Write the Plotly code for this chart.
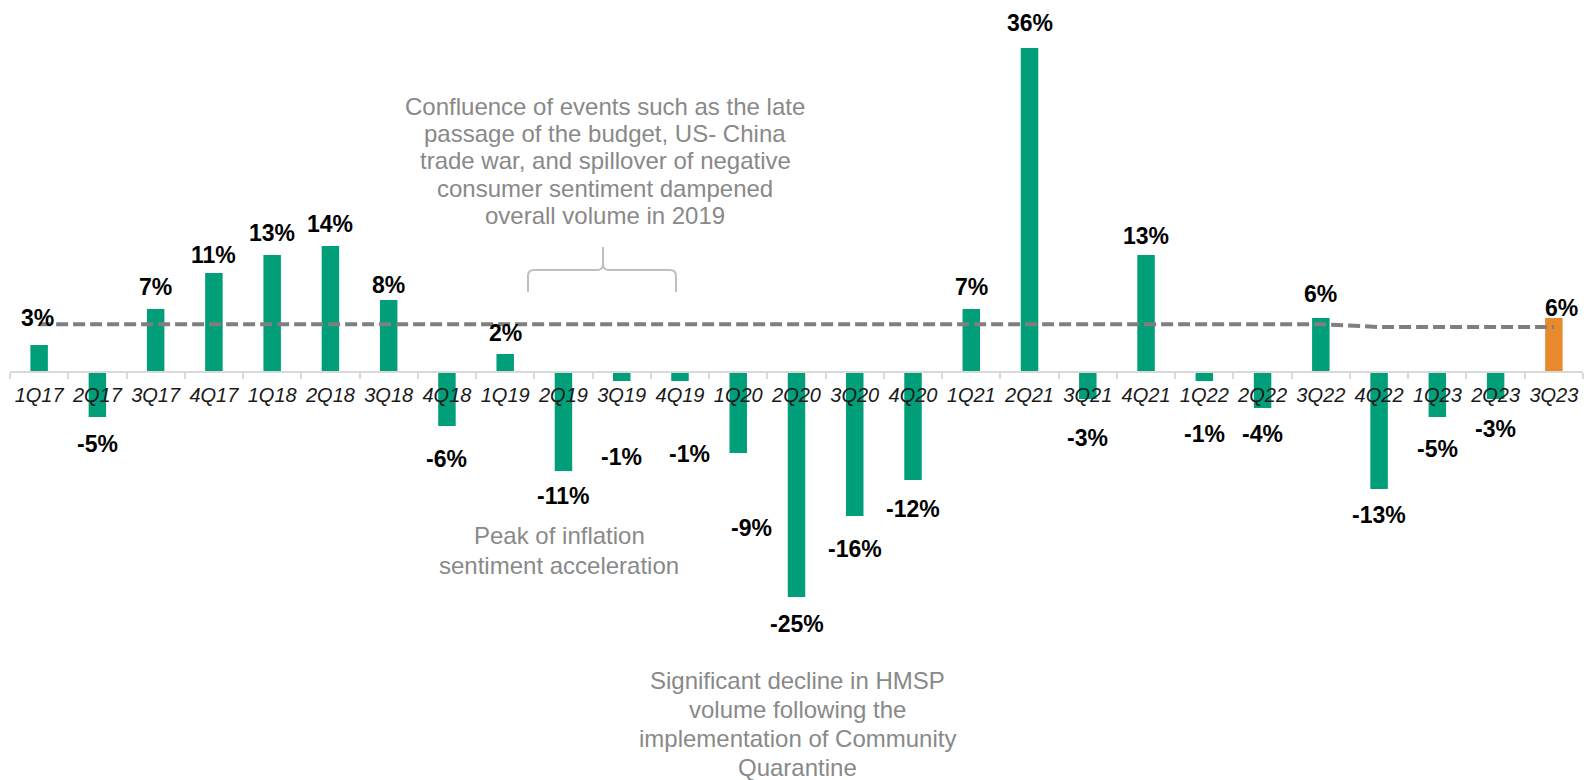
import plotly.graph_objects as go

# ---- data -------------------------------------------------------------
quarters = ["1Q17", "2Q17", "3Q17", "4Q17", "1Q18", "2Q18", "3Q18", "4Q18",
            "1Q19", "2Q19", "3Q19", "4Q19", "1Q20", "2Q20", "3Q20", "4Q20",
            "1Q21", "2Q21", "3Q21", "4Q21", "1Q22", "2Q22", "3Q22", "4Q22",
            "1Q23", "2Q23", "3Q23"]
growth = [3, -5, 7, 11, 13, 14, 8, -6, 2, -11, -1, -1, -9, -25, -16, -12,
          7, 36, -3, 13, -1, -4, 6, -13, -5, -3, 6]
average = [5.3, 5.3, 5.3, 5.3, 5.3, 5.3, 5.3, 5.3, 5.3, 5.3, 5.3, 5.3,
           5.3, 5.3, 5.3, 5.3, 5.3, 5.3, 5.3, 5.3, 5.3, 5.3, 5.3,
           5.0, 5.0, 5.0, 5.0]

# ---- styling ----------------------------------------------------------
GREEN = "#009E79"
ORANGE = "#E8892E"
GREY_TEXT = "#898989"
FONT = "Liberation Sans, Arial, sans-serif"

W, H = 1589, 780
M_L, M_R, M_T, M_B = 10, 6, 12, 3
Y_MIN, Y_MAX = -45, 40

# distance (px) from the end of each bar to the centre of its label
label_gap = [29, 25, 24, 20, 24, 24, 17, 31, 23, 23, 74, 71, 73, 25, 31, 27,
             24, 27, 37, 21, 51, 24, 26, 24, 30, 28, 12]
# horizontal nudges (px) for a few labels
label_dx = {"1Q17": -2, "4Q19": 10, "1Q20": 13, "3Q23": 8}

bar_colors = [GREEN] * (len(quarters) - 1) + [ORANGE]

fig = go.Figure()
fig.add_trace(go.Bar(x=quarters, y=growth, marker=dict(color=bar_colors, line=dict(width=0)),
                     hoverinfo="skip"))
fig.add_trace(go.Scatter(x=quarters, y=average, mode="lines",
                         line=dict(color="#7F7F7F", width=4, dash="12px,5px"),
                         hoverinfo="skip"))

annotations = []
for q, v, gap in zip(quarters, growth, label_gap):
    annotations.append(dict(
        x=q, y=v, xref="x", yref="y", text=f"{v}%", showarrow=False,
        xanchor="center", yanchor="middle",
        xshift=label_dx.get(q, 0),
        yshift=(gap - 2) if v >= 0 else -(gap + 2),
        font=dict(family=FONT, size=23, color="black", weight="bold"),
    ))

plot_w = W - M_L - M_R
plot_h = H - M_T - M_B


def px_x(px):
    return (px - M_L) / plot_w


def px_y(py):
    return 1 - (py - M_T) / plot_h


def text_block(lines, cx, first_cy, spacing):
    for i, line in enumerate(lines):
        annotations.append(dict(
            x=px_x(cx), y=px_y(first_cy + i * spacing), xref="paper", yref="paper",
            text=line, showarrow=False, xanchor="center", yanchor="middle",
            font=dict(family=FONT, size=24, color=GREY_TEXT),
        ))


text_block(["Confluence of events such as the late",
            "passage of the budget, US- China",
            "trade war, and spillover of negative",
            "consumer sentiment dampened",
            "overall volume in 2019"], 605, 106, 27.5)
text_block(["Peak of inflation",
            "sentiment acceleration"], 559, 535, 30)
text_block(["Significant decline in HMSP",
            "volume following the",
            "implementation of Community",
            "Quarantine"], 798, 680, 29)

# curly bracket over the 2019 quarters
bx0, bx1, bmid = 528, 676, 603
by_top, by_line, by_bot, r = 247, 270, 292, 6
pts = [
    f"M {px_x(bx0)} {px_y(by_bot)}",
    f"L {px_x(bx0)} {px_y(by_line + r)}",
    f"Q {px_x(bx0)} {px_y(by_line)} {px_x(bx0 + r)} {px_y(by_line)}",
    f"L {px_x(bmid - r)} {px_y(by_line)}",
    f"Q {px_x(bmid)} {px_y(by_line)} {px_x(bmid)} {px_y(by_line - r)}",
    f"L {px_x(bmid)} {px_y(by_top)}",
    f"M {px_x(bmid)} {px_y(by_line - r)}",
    f"Q {px_x(bmid)} {px_y(by_line)} {px_x(bmid + r)} {px_y(by_line)}",
    f"L {px_x(bx1 - r)} {px_y(by_line)}",
    f"Q {px_x(bx1)} {px_y(by_line)} {px_x(bx1)} {px_y(by_line + r)}",
    f"L {px_x(bx1)} {px_y(by_bot)}",
]
shapes = [dict(type="path", xref="paper", yref="paper", path=" ".join(pts),
               line=dict(color="#BFBFBF", width=2))]

fig.update_layout(
    width=W, height=H,
    margin=dict(l=M_L, r=M_R, t=M_T, b=M_B),
    plot_bgcolor="white", paper_bgcolor="white",
    showlegend=False, bargap=0.70,
    annotations=annotations, shapes=shapes,
)
fig.update_xaxes(
    type="category", range=[-0.5, len(quarters) - 0.5],
    anchor="free", position=(0 - Y_MIN) / (Y_MAX - Y_MIN),
    showline=True, linecolor="#D9D9D9", linewidth=2,
    ticks="outside", tickson="boundaries", ticklen=6, tickcolor="#D9D9D9", tickwidth=1.5,
    tickfont=dict(family=FONT, size=20, color="#1A1A1A", style="italic"),
    tickangle=0, ticklabelstandoff=5,
    showgrid=False, zeroline=False, layer="above traces",
)
fig.update_yaxes(range=[Y_MIN, Y_MAX], visible=False, showgrid=False, zeroline=False)

fig.write_html("out.html")
